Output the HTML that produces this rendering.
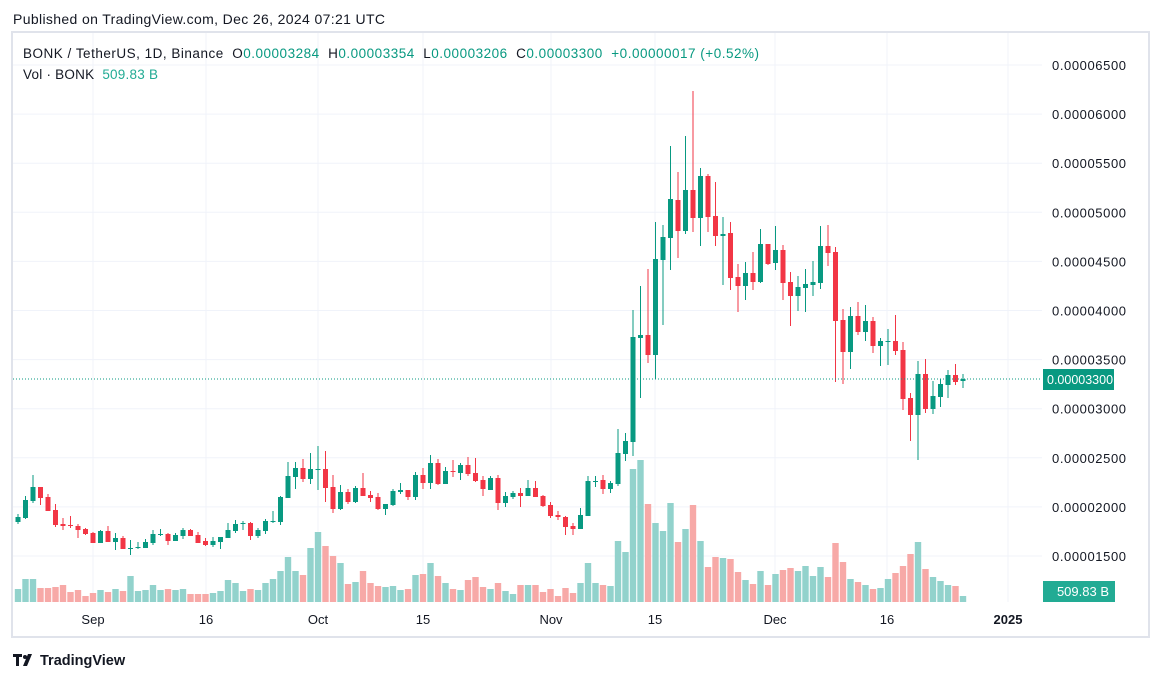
<!DOCTYPE html>
<html><head><meta charset="utf-8">
<style>
html,body{margin:0;padding:0;background:#fff;width:1162px;height:681px;overflow:hidden;font-family:"Liberation Sans",sans-serif;}
svg{position:absolute;left:0;top:0}
svg text{white-space:pre}
</style></head><body>
<svg id="s" width="1162" height="681" xmlns="http://www.w3.org/2000/svg" font-family="Liberation Sans, sans-serif">
<rect x="12" y="32" width="1137" height="605" fill="#fff" stroke="#e0e3eb" stroke-width="2"/>
<g id="grid" stroke="#f0f3fa" stroke-width="1"></g>
<g id="vol"></g>
<g id="cdl"></g>
<line x1="13" y1="379" x2="1042" y2="379" stroke="#089981" stroke-width="1" stroke-dasharray="1,2"/>
<g id="plab" font-size="13" fill="#131722"></g>
<rect x="1043" y="369" width="71" height="21" fill="#089981"/>
<text x="1047" y="384" font-size="12.5" fill="#fff">0.00003300</text>
<rect x="1043" y="581" width="72" height="21" fill="#22ab94"/>
<text x="1109" y="596" font-size="13" fill="#fff" text-anchor="end">509.83 B</text>
<g font-size="13" fill="#131722" text-anchor="middle">
<text x="93" y="624">Sep</text><text x="206" y="624">16</text><text x="318" y="624">Oct</text><text x="423" y="624">15</text><text x="551" y="624">Nov</text><text x="655" y="624">15</text><text x="775" y="624">Dec</text><text x="887" y="624">16</text><text x="1008" y="624" font-weight="bold">2025</text>
</g>
<text x="13" y="24" font-size="14" fill="#131722" textLength="372">Published on TradingView.com, Dec 26, 2024 07:21 UTC</text>
<text x="23" y="58" font-size="13.5" fill="#131722" textLength="736">BONK / TetherUS, 1D, Binance  O<tspan fill="#089981">0.00003284</tspan>  H<tspan fill="#089981">0.00003354</tspan>  L<tspan fill="#089981">0.00003206</tspan>  C<tspan fill="#089981">0.00003300</tspan>  <tspan fill="#089981">+0.00000017 (+0.52%)</tspan></text>
<text x="23" y="79" font-size="13.5" fill="#131722" textLength="135">Vol · BONK  <tspan fill="#22ab94">509.83 B</tspan></text>
<g fill="#131722"><rect x="13" y="654" width="9" height="3"/><rect x="16" y="654" width="3" height="12"/><circle cx="25" cy="657" r="2"/><path d="M28 654 L32 654 L27 666 L23 666 Z"/></g>
<text x="40" y="665" font-size="14.5" font-weight="bold" fill="#131722">TradingView</text>
</svg>
<script>
var NS="http://www.w3.org/2000/svg";
function el(p,t,a){var e=document.createElementNS(NS,t);for(var k in a)e.setAttribute(k,a[k]);document.getElementById(p).appendChild(e);return e;}
[93,206,318,423,551,655,775,887,1008].forEach(function(x){el("grid","line",{x1:x,y1:33,x2:x,y2:602});});
var labs=["0.00006500","0.00006000","0.00005500","0.00005000","0.00004500","0.00004000","0.00003500","0.00003000","0.00002500","0.00002000","0.00001500"];
labs.forEach(function(l,i){var y=65+i*49.1;el("grid","line",{x1:13,y1:y,x2:1042,y2:y});
 var t=el("plab","text",{x:1052,y:y+5,textLength:74});t.textContent=l;});
var C=[
"G517,522,514,524,589","G500,518,496,519,579","G487,501,475,503,579","R487,498,487,505,588","R497,511,494,511,588",
"R510,525,504,527,587","R524,526,518,530,585","R525,526,516,528,592","R526,530,524,538,590","R529,534,528,535,596",
"R533,543,532,543,593","G531,543,530,543,590","R531,542,526,542,592","G538,542,533,550,589","R538,549,536,549,591",
"G548,549,540,555,576","G547,548,542,549,591","G542,548,539,548,590","G534,543,530,545,585","G534,535,529,536,590",
"R534,541,533,545,589","G535,541,533,541,590","G530,536,528,539,589","R530,536,529,536,594","R535,543,532,543,594",
"R541,545,538,546,594","G541,545,537,547,593","G537,542,537,549,591","G530,538,523,538,580","G524,531,520,533,583",
"G523,524,521,530,591","R523,536,522,540,589","G530,536,528,538,590","G521,531,519,534,583","G521,522,511,523,579",
"G497,522,496,525,571","G476,498,462,498,557","G468,477,462,489,571","R468,479,459,482,575","G469,479,453,484,548",
"G469,470,446,490,532","R469,488,451,502,546","R487,509,475,513,556","G492,509,485,510,563","R492,502,489,504,584",
"G488,502,486,503,582","R488,496,473,496,571","R495,498,491,502,583","R497,509,493,510,586","G504,509,504,515,587",
"G491,505,489,506,586","G490,492,483,494,590","R490,497,490,500,589","G475,497,472,500,575","R475,483,468,489,574",
"G463,483,455,489,563","R463,484,459,485,576","G471,484,467,484,583","R471,472,460,477,589","G465,473,463,480,590",
"R465,474,457,476,580","R473,481,458,482,577","R480,489,476,496,587","G478,490,476,490,589","R478,503,475,510,583",
"G496,503,492,507,591","G493,497,491,499,594","R493,496,488,507,585","G488,496,480,496,585","R488,497,481,497,585",
"R496,506,495,507,592","R505,516,502,518,589","R515,517,511,520,596","R517,527,516,535,588","R526,529,523,535,593",
"G515,529,508,529,583","G481,516,476,516,563","G481,482,476,487,583","R480,489,475,494,585","G483,489,481,493,586",
"G453,484,429,486,541","G441,454,433,461,552","G337,442,310,456,469","G335,338,286,398,460","R335,355,269,363,504",
"G259,355,222,379,523","G237,260,225,325,531","G199,238,146,270,503","R200,231,172,258,542","G190,231,136,234,529",
"R190,218,91,232,505","G176,218,168,246,541","R176,217,174,232,567","R216,236,182,246,557","G234,236,217,285,558",
"R233,278,222,290,559","R277,286,264,312,572","G273,286,262,300,580","R273,282,252,290,584","G244,282,229,283,571",
"R244,264,244,265,585","G250,263,226,270,574","R250,283,245,300,570","R282,296,272,326,568","G287,296,276,311,571",
"G284,288,269,312,566","G282,285,261,296,576","G246,283,226,289,567","R246,253,225,266,577","R252,321,247,382,543",
"R320,352,309,384,562","G316,352,307,369,579","R316,332,302,335,582","G321,332,305,341,585","R321,346,317,353,589",
"G341,346,338,366,588","G341,342,329,365,579","R341,351,315,355,573","R350,399,342,410,566","R398,415,393,441,554",
"G374,415,361,460,542","R374,409,359,413,569","G396,409,381,414,577","G384,397,379,407,581","G375,385,370,398,585",
"R375,382,364,385,586","G379,381,374,388,596"];
C.forEach(function(s,i){var g=s[0]=="G";var v=s.slice(1).split(",").map(Number);var x=18+i*7.5;
 var col=g?"#089981":"#f23645";
 el("vol","rect",{x:x-3.2,y:v[4],width:6.4,height:602-v[4],fill:g?"#92d2cc":"#f7a9a7"});
 el("cdl","line",{x1:x,y1:v[2],x2:x,y2:v[3],stroke:col,"stroke-width":1});
 el("cdl","rect",{x:x-2.5,y:v[0],width:5,height:Math.max(1,v[1]-v[0]),fill:col});
});
</script>
</body></html>
